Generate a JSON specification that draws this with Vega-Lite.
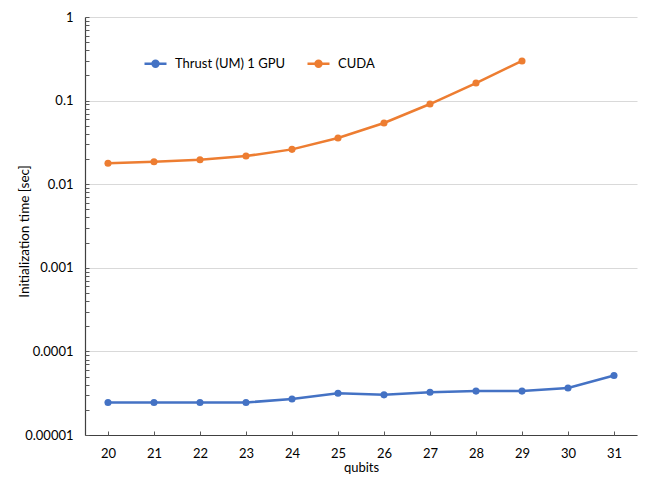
{
  "$schema": "https://vega.github.io/schema/vega-lite/v6.json",
  "autosize": {"type": "none"},
  "width": 552,
  "height": 418,
  "padding": {"left": 85, "top": 17, "right": 17, "bottom": 42},
  "background": "white",
  "config": {
    "view": {"stroke": null},
    "font": "Lato",
    "axis": {"labelFont": "Lato", "titleFont": "Lato", "labelColor": "#000000", "titleColor": "#000000", "domainColor": "#404040", "tickColor": "#595959", "domainWidth": 1.2, "tickWidth": 1}
  },
  "data": {
    "values": [
      {"qubits": 20, "series": "Thrust (UM) 1 GPU", "time": 0.0000245},
      {"qubits": 21, "series": "Thrust (UM) 1 GPU", "time": 0.0000245},
      {"qubits": 22, "series": "Thrust (UM) 1 GPU", "time": 0.0000245},
      {"qubits": 23, "series": "Thrust (UM) 1 GPU", "time": 0.0000245},
      {"qubits": 24, "series": "Thrust (UM) 1 GPU", "time": 0.0000269},
      {"qubits": 25, "series": "Thrust (UM) 1 GPU", "time": 0.0000316},
      {"qubits": 26, "series": "Thrust (UM) 1 GPU", "time": 0.0000302},
      {"qubits": 27, "series": "Thrust (UM) 1 GPU", "time": 0.0000325},
      {"qubits": 28, "series": "Thrust (UM) 1 GPU", "time": 0.0000335},
      {"qubits": 29, "series": "Thrust (UM) 1 GPU", "time": 0.0000335},
      {"qubits": 30, "series": "Thrust (UM) 1 GPU", "time": 0.0000365},
      {"qubits": 31, "series": "Thrust (UM) 1 GPU", "time": 0.0000514},
      {"qubits": 20, "series": "CUDA", "time": 0.0178},
      {"qubits": 21, "series": "CUDA", "time": 0.0186},
      {"qubits": 22, "series": "CUDA", "time": 0.0196},
      {"qubits": 23, "series": "CUDA", "time": 0.0217},
      {"qubits": 24, "series": "CUDA", "time": 0.0261},
      {"qubits": 25, "series": "CUDA", "time": 0.0357},
      {"qubits": 26, "series": "CUDA", "time": 0.054},
      {"qubits": 27, "series": "CUDA", "time": 0.091},
      {"qubits": 28, "series": "CUDA", "time": 0.162},
      {"qubits": 29, "series": "CUDA", "time": 0.298}
    ]
  },
  "resolve": {"axis": {"x": "independent", "y": "independent"}},
  "layer": [
    {
      "mark": {"type": "line", "strokeWidth": 2.5, "point": {"filled": true, "size": 50}},
      "encoding": {
        "x": {
          "field": "qubits",
          "type": "ordinal",
          "scale": {"type": "point", "padding": 0.5},
          "axis": {
            "orient": "bottom",
            "title": "qubits",
            "titleFontSize": 13,
            "titleFontWeight": "normal",
            "titlePadding": 1,
            "labelAngle": 0,
            "labelFontSize": 13,
            "labelPadding": 12,
            "ticks": false,
            "grid": false
          }
        },
        "y": {
          "field": "time",
          "type": "quantitative",
          "scale": {"type": "log", "domain": [0.00001, 1], "nice": false},
          "axis": {
            "orient": "left",
            "title": "Initialization time [sec]",
            "titleFontSize": 13.5,
            "titleFontWeight": "normal",
            "titleX": -61,
            "titleY": 214,
            "titleBaseline": "middle",
            "labelFontSize": 13,
            "labelPadding": 12,
            "ticks": false,
            "values": [0.00001, 0.0001, 0.001, 0.01, 0.1, 1],
            "labelExpr": "format(datum.value, '.5~f')",
            "grid": true,
            "gridColor": "#d9d9d9",
            "gridWidth": 1
          }
        },
        "color": {
          "field": "series",
          "type": "nominal",
          "sort": ["Thrust (UM) 1 GPU", "CUDA"],
          "scale": {"domain": ["Thrust (UM) 1 GPU", "CUDA"], "range": ["#4472C4", "#ED7D31"]},
          "legend": {
            "title": null,
            "orient": "none",
            "direction": "horizontal",
            "legendX": 58,
            "legendY": 34,
            "padding": 0,
            "columnPadding": 16,
            "labelFont": "Lato",
            "labelFontSize": 13,
            "labelColor": "#000000",
            "labelOffset": 7,
            "symbolType": "M-1,0H1M-0.27,0A0.27,0.27,0,1,1,0.27,0A0.27,0.27,0,1,1,-0.27,0Z",
            "symbolSize": 484,
            "symbolStrokeWidth": 2.5,
            "encode": {"symbols": {"update": {"fill": {"scale": "color", "field": "value"}, "fillOpacity": {"value": 1}}}}
          }
        }
      }
    },
    {
      "mark": {"type": "point", "opacity": 0},
      "encoding": {
        "x": {
          "field": "qubits",
          "type": "ordinal",
          "axis": {
            "orient": "bottom",
            "offset": -4,
            "tickSize": 4,
            "domain": false,
            "labels": false,
            "title": null,
            "grid": false
          }
        },
        "y": {
          "field": "time",
          "type": "quantitative",
          "axis": {
            "orient": "left",
            "offset": -4,
            "tickSize": 4,
            "domain": false,
            "labels": false,
            "title": null,
            "grid": false,
            "values": [0.00001, 0.00002, 0.00003, 0.00004, 0.00005, 0.00006, 0.00007, 0.00008, 0.00009,
                       0.0001, 0.0002, 0.0003, 0.0004, 0.0005, 0.0006, 0.0007, 0.0008, 0.0009,
                       0.001, 0.002, 0.003, 0.004, 0.005, 0.006, 0.007, 0.008, 0.009,
                       0.01, 0.02, 0.03, 0.04, 0.05, 0.06, 0.07, 0.08, 0.09,
                       0.1, 0.2, 0.3, 0.4, 0.5, 0.6, 0.7, 0.8, 0.9, 1]
          }
        }
      }
    }
  ]
}
